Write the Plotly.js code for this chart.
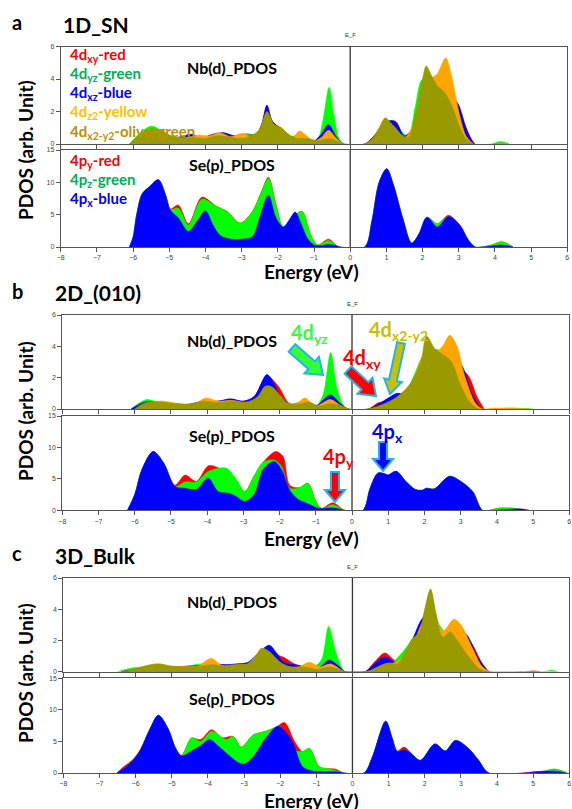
<!DOCTYPE html>
<html><head><meta charset="utf-8">
<script src="https://cdn.plot.ly/plotly-3.0.1.min.js"></script>
<style>html,body{margin:0;padding:0;background:#fff}#plot{width:572px;height:809px}</style>
</head><body><div id="plot"></div>
<script>
// ---------------- DATA (energy in eV, PDOS in arb. units) ----------------
const xTicks = [-8,-7,-6,-5,-4,-3,-2,-1,0,1,2,3,4,5,6];
const nbTicks = [0,2,4,6];
const seTicks = [0,5,10,15];
const panelLetters = ['a','b','c'];
const panelNames = ['1D_SN','2D_(010)','3D_Bulk'];

// ---- Panel a : Nb(d)
const aNbXyE = [-6.0,-5.7,-5.4,-5.1,-4.8,-4.4,-4.1,-3.8,-3.5,-3.2,-2.9,-2.6,-2.45,-2.3,-2.15,-1.9,-1.6,-1.4,-1.2,-1.0,-0.8,-0.6,-0.4,-0.2,0.4,0.7,1.0,1.25,1.5,1.8,2.0,2.3,2.6,2.9,3.1,3.3,3.45];
const aNbXyV = [0,0.5,0.8,0.6,0.4,0.55,0.4,0.55,0.65,0.5,0.55,0.6,1.1,2.3,1.4,0.95,0.4,0.6,0.4,0.2,0.55,1.0,0.45,0,0,0.6,1.3,1.4,0.5,1.2,2.5,3.0,3.2,2.5,1.6,0.5,0];
const aNbYzE = [-6.1,-5.8,-5.5,-5.2,-4.9,-4.5,-4.1,-3.7,-3.3,-2.9,-2.6,-2.3,-2.0,-1.7,-1.4,-1.1,-0.9,-0.75,-0.58,-0.45,-0.3,-0.15,0.4,0.7,1.0,1.3,1.6,1.8,2.0,2.3,2.6,3.0,3.3,3.9,4.15,4.4];
const aNbYzV = [0,0.7,1.1,0.8,0.4,0.4,0.4,0.5,0.4,0.65,0.6,1.6,0.9,0.5,0.5,0.2,0.3,1.5,3.5,1.8,0.3,0,0,0.4,1.2,1.0,0.5,2.3,4.0,3.9,2.6,1.0,0,0,0.15,0];
const aNbXzE = [-6.0,-5.7,-5.4,-5.1,-4.8,-4.4,-4.1,-3.8,-3.5,-3.2,-2.9,-2.6,-2.45,-2.3,-2.15,-1.9,-1.6,-1.4,-1.2,-1.0,-0.8,-0.6,-0.4,-0.2,0.4,0.7,1.0,1.25,1.5,1.8,2.0,2.3,2.6,2.8,3.0,3.2,3.4];
const aNbXzV = [0,0.5,0.8,0.6,0.4,0.6,0.4,0.6,0.7,0.5,0.55,0.6,1.2,2.4,1.4,0.9,0.4,0.6,0.4,0.2,0.6,1.2,0.5,0,0,0.6,1.4,1.37,0.5,1.2,3.0,3.8,3.5,3.0,2.4,1.0,0];
const aNbZ2E = [-6.0,-5.7,-5.4,-5.1,-4.8,-4.5,-4.2,-3.9,-3.6,-3.3,-3.0,-2.7,-2.5,-2.3,-2.1,-1.9,-1.6,-1.4,-1.2,-1.0,-0.8,-0.6,-0.4,-0.2,0.4,0.7,0.95,1.2,1.5,1.8,2.0,2.2,2.4,2.64,2.8,3.0,3.2,3.4];
const aNbZ2V = [0,0.4,0.7,0.6,0.4,0.4,0.55,0.5,0.7,0.45,0.65,0.5,0.9,1.9,1.1,0.9,0.4,0.8,0.5,0.2,0.4,0.85,0.4,0,0,0.5,1.3,1.1,0.4,1.5,3.5,4.0,4.3,5.3,4.2,2.0,0.5,0];
const aNbX2E = [-6.1,-5.8,-5.5,-5.2,-4.9,-4.6,-4.3,-4.0,-3.7,-3.4,-3.1,-2.8,-2.5,-2.3,-2.1,-1.9,-1.7,-1.5,-1.3,-1.1,-0.9,-0.7,-0.5,-0.3,-0.15,0.4,0.6,0.8,0.97,1.2,1.4,1.6,1.8,2.0,2.1,2.25,2.4,2.6,2.8,3.0,3.2,3.4];
const aNbX2V = [0,0.6,0.95,0.8,0.45,0.35,0.4,0.35,0.5,0.45,0.35,0.45,0.9,2.0,1.2,1.0,0.6,0.35,0.35,0.3,0.2,0.3,0.3,0.1,0,0,0.3,1.0,1.6,1.1,0.6,0.4,1.8,4.0,4.8,4.2,3.6,3.2,2.4,1.2,0.3,0];
// ---- Panel a : Se(p)
const aSePyE = [-6.1,-6.0,-5.9,-5.75,-5.55,-5.3,-5.1,-4.97,-4.75,-4.47,-4.1,-3.7,-3.4,-3.04,-2.7,-2.45,-2.26,-2.05,-1.85,-1.6,-1.33,-1.1,-0.9,-0.6,-0.3,0.4,0.6,0.8,1.01,1.2,1.45,1.7,1.9,2.12,2.41,2.72,3.04,3.25,3.45,3.6,3.9,4.19,4.5];
const aSePyV = [0,1.5,5,8.2,9.3,10.4,8.0,5.9,6.5,3.6,7.7,6.3,5.5,3.7,5.5,8.6,10.8,6.6,3.1,4.5,5.5,2.0,0.3,1.2,0,0,4,10,12.1,9.5,4.5,0.6,2.0,4.6,3.6,4.9,3.3,1.2,0,0,0.3,0.8,0];
const aSePzE = [-6.1,-6.0,-5.9,-5.75,-5.55,-5.3,-5.1,-4.97,-4.75,-4.47,-4.1,-3.7,-3.4,-3.04,-2.7,-2.45,-2.26,-2.05,-1.85,-1.6,-1.33,-1.1,-0.9,-0.6,-0.3,0.4,0.6,0.8,1.01,1.2,1.45,1.7,1.9,2.12,2.41,2.72,3.04,3.25,3.45,3.6,3.9,4.19,4.5];
const aSePzV = [0,1.5,5,8.2,9.3,10.4,8.0,5.8,6.0,3.4,7.4,6.3,5.5,3.7,5.5,8.5,10.6,6.5,3.1,4.5,5.5,2.0,0.3,1.0,0,0,4,10,12.1,9.5,4.5,0.6,2.0,4.6,3.6,4.7,3.3,1.2,0,0,0.3,0.8,0];
const aSePxE = [-6.1,-6.0,-5.9,-5.75,-5.55,-5.3,-5.1,-4.97,-4.75,-4.47,-4.2,-4.0,-3.8,-3.6,-3.3,-3.0,-2.7,-2.5,-2.26,-2.05,-1.85,-1.65,-1.52,-1.35,-1.2,-1.0,-0.8,-0.6,-0.4,-0.25,0.4,0.6,0.8,1.01,1.2,1.45,1.7,1.9,2.12,2.41,2.72,3.04,3.25,3.45,3.7,4.2,4.5];
const aSePxV = [0,1.5,5,8.2,9.3,10.4,8.0,5.7,4.5,2.4,4.2,5.6,3.5,1.8,1.2,1.2,1.6,4.5,8.0,4.5,3.1,4.5,5.4,3.5,1.5,0.3,0.2,0.4,0.2,0,0,4,10,12.1,9.5,4.5,0.6,2.0,4.6,3.1,4.7,3.3,1.2,0,0,0.3,0];

// ---- Panel b : Nb(d)
const bNbXyE = [-6.1,-5.7,-5.3,-4.9,-4.5,-4.1,-3.7,-3.35,-3.0,-2.7,-2.35,-2.05,-1.7,-1.3,-1.0,-0.6,-0.3,-0.1,0.45,0.72,1.0,1.24,1.6,2.0,2.6,3.0,3.22,3.45,3.65];
const bNbXyV = [0,0.45,0.4,0.3,0.3,0.5,0.5,0.6,0.5,0.8,2.1,1.5,0.3,0.5,0.2,0.8,0.3,0,0,0.4,0.5,0.9,1.0,2.8,3.2,2.6,2.1,0.8,0];
const bNbYzE = [-6.1,-5.68,-5.3,-4.9,-4.5,-4.1,-3.7,-3.3,-2.9,-2.6,-2.3,-2.0,-1.7,-1.3,-1.0,-0.8,-0.59,-0.4,-0.15,0.5,1.0,1.5,2.0,2.36,2.8,3.2,3.5,3.9,4.4,5.0];
const bNbYzV = [0,0.6,0.4,0.35,0.3,0.45,0.4,0.5,0.5,0.8,1.5,0.9,0.3,0.5,0.2,0.9,3.6,1.2,0,0,0.5,1.2,3.5,3.8,2.5,1.0,0,0,0.06,0];
const bNbXzE = [-6.1,-5.7,-5.3,-4.9,-4.5,-4.1,-3.7,-3.35,-3.0,-2.7,-2.35,-2.15,-2.0,-1.7,-1.3,-1.0,-0.6,-0.3,-0.1,0.45,0.75,1.0,1.24,1.5,2.0,2.5,2.8,3.03,3.3,3.55];
const bNbXzV = [0,0.45,0.4,0.3,0.3,0.5,0.5,0.65,0.5,0.8,2.2,1.6,0.9,0.3,0.5,0.2,0.9,0.3,0,0,0.35,0.7,1.0,1.0,3.0,3.5,3.2,2.8,1.0,0];
const bNbZ2E = [-5.9,-5.5,-5.2,-4.8,-4.4,-4.02,-3.7,-3.3,-2.9,-2.6,-2.35,-2.1,-1.8,-1.5,-1.3,-1.0,-0.6,-0.3,-0.1,0.5,1.2,1.6,2.0,2.3,2.5,2.7,2.9,3.1,3.4,3.6,3.9,4.4,4.9];
const bNbZ2V = [0,0.45,0.5,0.35,0.3,0.7,0.5,0.55,0.4,0.7,1.3,1.1,0.35,0.4,0.7,0.2,0.6,0.2,0,0,0.6,1.4,3.5,3.6,4.0,4.7,4.0,2.2,0.4,0,0.05,0.05,0];
const bNbX2E = [-6.0,-5.7,-5.3,-4.9,-4.5,-4.1,-3.7,-3.3,-2.9,-2.6,-2.4,-2.2,-2.0,-1.8,-1.5,-1.2,-0.9,-0.6,-0.3,-0.1,0.45,0.8,1.2,1.6,1.9,2.06,2.3,2.5,2.75,3.0,3.3,3.5];
const bNbX2V = [0,0.4,0.45,0.35,0.3,0.5,0.4,0.5,0.45,0.8,1.45,1.4,0.9,0.4,0.3,0.45,0.2,0.35,0.2,0,0,0.25,0.7,1.6,3.0,4.65,3.8,3.5,3.0,1.5,0.3,0];
// ---- Panel b : Se(p)
const bSePyE = [-6.2,-6.0,-5.8,-5.49,-5.2,-4.89,-4.61,-4.3,-3.96,-3.6,-3.3,-2.96,-2.7,-2.46,-2.1,-1.9,-1.72,-1.45,-1.22,-1.0,-0.85,-0.53,-0.2,0.3,0.5,0.71,0.9,0.99,1.22,1.5,1.75,1.95,2.05,2.27,2.69,3.0,3.33,3.6,3.8,4.06,4.5,4.8];
const bSePyV = [0,2.5,6.5,9.35,7.5,4.0,5.6,4.6,7.1,6.5,5.2,3.0,5.5,7.6,9.35,8.5,4.0,3.6,4.3,1.5,0.3,1.2,0,0,3.5,5.9,5.8,5.6,6.2,4.5,3.3,3.2,3.5,3.4,5.4,4.6,3.0,0,0,0.35,0.3,0];
const bSePzE = [-6.2,-6.0,-5.8,-5.49,-5.2,-4.89,-4.61,-4.3,-3.96,-3.47,-3.2,-2.96,-2.7,-2.46,-2.15,-1.95,-1.72,-1.45,-1.22,-1.0,-0.85,-0.53,-0.2,0.3,0.5,0.71,0.9,0.99,1.22,1.5,1.75,1.95,2.05,2.27,2.69,3.0,3.33,3.6,3.8,4.06,4.5,4.8];
const bSePzV = [0,2.5,6.5,9.35,7.5,3.8,4.5,4.5,6.2,6.7,5.0,3.0,5.5,7.6,8.0,7.0,3.5,3.6,4.3,1.5,0.3,0.9,0,0,3.5,5.9,5.8,5.6,6.2,4.5,3.3,3.2,3.5,3.4,5.4,4.6,3.0,0,0,0.35,0.3,0];
const bSePxE = [-6.2,-6.0,-5.8,-5.49,-5.2,-4.89,-4.6,-4.3,-3.97,-3.7,-3.4,-3.2,-2.96,-2.7,-2.45,-2.15,-1.95,-1.72,-1.5,-1.2,-0.9,-0.53,-0.2,0.3,0.5,0.71,0.9,0.99,1.22,1.5,1.75,1.95,2.05,2.27,2.69,3.0,3.33,3.6,3.9,4.7,4.9];
const bSePxV = [0,2.5,6.5,9.35,7.5,3.8,3.5,3.3,5.1,3.0,2.7,2.2,1.4,2.5,6.5,7.75,6.5,3.2,1.8,1.0,0.3,0.4,0,0,3.5,5.9,5.8,5.6,6.2,4.5,3.3,3.2,3.5,3.4,5.4,4.6,3.0,0,0,0.2,0];

// ---- Panel c : Nb(d)
const cNbXyE = [-6.3,-5.5,-4.6,-3.9,-2.9,-2.3,-2.0,-1.88,-1.6,-1.2,-0.65,-0.2,0.35,0.6,0.9,1.2,1.5,2.0,2.5,2.9,3.3,3.6,3.8,4.8,5.0,5.2];
const cNbXyV = [0,0.3,0.3,0.45,0.5,1.4,1.0,0.9,0.5,0.3,0.6,0,0,0.6,1.2,0.7,1.0,3.0,2.2,2.8,1.8,0.5,0,0,0.05,0];
const cNbYzE = [-6.5,-6.07,-5.7,-5.37,-5.0,-4.6,-4.18,-3.9,-3.5,-3.21,-2.9,-2.5,-2.2,-1.9,-1.5,-1.1,-0.85,-0.66,-0.45,-0.2,0.4,1.0,1.6,2.0,2.16,2.4,2.7,3.0,3.4,5.3,5.5,5.7];
const cNbYzV = [0,0.25,0.3,0.45,0.3,0.35,0.5,0.4,0.4,0.5,0.45,1.3,1.1,0.4,0.3,0.25,0.8,2.9,1.2,0,0,0.4,1.9,3.8,5.2,3.0,2.2,1.2,0,0,0.1,0];
const cNbXzE = [-6.4,-6.0,-5.5,-5.0,-4.6,-4.2,-3.9,-3.5,-3.2,-2.89,-2.6,-2.3,-2.1,-1.9,-1.5,-1.2,-0.9,-0.65,-0.4,-0.2,0.35,0.6,0.9,1.2,1.5,2.0,2.5,2.8,3.1,3.2,3.5,3.77];
const cNbXzV = [0,0.15,0.35,0.3,0.35,0.4,0.5,0.45,0.5,0.6,1.2,1.7,1.2,0.6,0.4,0.3,0.3,0.75,0.4,0,0,0.5,0.95,0.6,1.2,3.5,2.3,2.9,2.5,2.25,0.8,0];
const cNbZ2E = [-6.2,-5.7,-5.37,-5.0,-4.6,-4.3,-3.9,-3.6,-3.2,-2.9,-2.52,-2.2,-1.9,-1.5,-1.19,-0.9,-0.6,-0.2,0.4,0.9,1.2,1.6,2.0,2.16,2.5,2.8,3.0,3.3,3.6,3.8];
const cNbZ2V = [0,0.35,0.5,0.35,0.35,0.35,0.85,0.4,0.45,0.5,1.3,1.0,0.4,0.3,0.6,0.3,0.5,0,0,0.5,0.6,1.5,3.5,4.0,2.6,3.35,3.0,1.6,0.3,0];
const cNbX2E = [-6.4,-6.0,-5.7,-5.37,-5.0,-4.6,-4.2,-3.9,-3.5,-3.2,-2.9,-2.7,-2.52,-2.3,-2.0,-1.7,-1.3,-1.0,-0.6,-0.2,0.4,0.7,1.0,1.25,1.45,1.65,1.85,2.0,2.16,2.3,2.5,2.71,2.9,3.2,3.5,3.7];
const cNbX2V = [0,0.2,0.4,0.5,0.35,0.3,0.35,0.45,0.35,0.45,0.5,0.9,1.5,1.3,0.6,0.3,0.3,0.15,0.3,0,0,0.3,0.55,0.5,1.2,2.1,2.5,4.0,5.3,3.8,2.2,2.55,2.0,1.0,0.2,0];
// ---- Panel c : Se(p)
const cSePyE = [-6.52,-6.33,-6.1,-5.88,-5.6,-5.37,-5.1,-4.9,-4.73,-4.45,-4.2,-3.9,-3.6,-3.3,-3.07,-2.75,-2.4,-2.1,-1.88,-1.6,-1.38,-1.19,-0.92,-0.7,-0.46,-0.23,0.32,0.55,0.92,1.1,1.24,1.43,1.6,1.88,2.28,2.57,2.85,3.21,3.49,3.77,4.7,5.0,5.3,5.6,5.95];
const cSePyV = [0,1.0,2.0,3.6,7.0,9.15,7.0,4.0,2.8,5.5,5.3,6.85,5.6,5.8,4.1,6.0,6.6,7.3,8.0,5.0,3.4,3.9,1.0,0.7,0.6,0,0,2.5,8.2,5.5,3.5,4.1,3.3,2.0,4.6,3.5,5.15,3.9,2.0,0,0,0.2,0.3,0.6,0];
const cSePzE = [-6.52,-6.33,-6.1,-5.88,-5.6,-5.37,-5.1,-4.9,-4.73,-4.45,-4.2,-3.9,-3.49,-3.3,-3.07,-2.75,-2.4,-2.0,-1.75,-1.55,-1.38,-1.19,-0.92,-0.7,-0.46,-0.23,0.32,0.55,0.92,1.1,1.24,1.43,1.6,1.88,2.28,2.57,2.85,3.21,3.49,3.77,5.0,5.3,5.6,5.95];
const cSePzV = [0,0.7,1.8,3.5,7.0,9.15,7.0,4.0,2.7,5.6,5.0,6.6,5.3,5.8,4.1,6.0,6.6,7.3,4.5,3.5,3.4,3.9,1.0,0.7,0.4,0,0,2.5,8.2,5.5,3.4,3.7,3.2,2.0,4.6,3.5,5.15,3.9,2.0,0,0,0.3,0.6,0];
const cSePxE = [-6.52,-6.33,-6.1,-5.88,-5.6,-5.37,-5.1,-4.9,-4.73,-4.45,-4.2,-3.95,-3.7,-3.4,-3.2,-3.0,-2.75,-2.4,-2.07,-1.9,-1.65,-1.38,-1.1,-0.8,-0.46,-0.23,0.32,0.55,0.92,1.1,1.24,1.43,1.6,1.88,2.28,2.57,2.85,3.21,3.49,3.77,4.8,5.2,5.6,5.9];
const cSePxV = [0,0.7,1.8,3.5,7.0,9.15,7.0,4.0,2.7,3.5,4.3,5.3,4.2,2.7,1.8,1.4,2.5,5.5,7.4,6.8,4.8,1.0,0.3,0.2,0.2,0,0,2.5,8.2,5.5,3.4,3.7,3.2,2.0,4.6,3.5,5.15,3.9,2.0,0,0,0.2,0.3,0];

// ---------------- LAYOUT / DRAWING ----------------
const W = 572, H = 809;
const PX = x => x / W, PY = y => 1 - y / H;
const COL = {xy:'#ff0000', yz:'#00ff00', xz:'#0000ff', z2:'#ffa500', x2:'#999900'};
const geo = [
  {nbT:46.5, nbB:144, seT:150, seB:247, xl:60.7, xr:567.3, ef:35, letY:22, nameX:61, nameY:25, nbLab:67, seLab:165, yt:150, en:272},
  {nbT:315, nbB:409, seT:416, seB:510.3, xl:62.3, xr:569.3, ef:304, letY:291, nameX:53, nameY:292, nbLab:340, seLab:435, yt:411, en:538},
  {nbT:578, nbB:671.7, seT:678.3, seB:773, xl:63.3, xr:569.3, ef:567, letY:553, nameX:53, nameY:555, nbLab:601, seLab:698, yt:673, en:800}
];
const nbSets = [
  [[aNbXyE,aNbXyV,'xy'],[aNbYzE,aNbYzV,'yz'],[aNbXzE,aNbXzV,'xz'],[aNbZ2E,aNbZ2V,'z2'],[aNbX2E,aNbX2V,'x2']],
  [[bNbXyE,bNbXyV,'xy'],[bNbYzE,bNbYzV,'yz'],[bNbXzE,bNbXzV,'xz'],[bNbZ2E,bNbZ2V,'z2'],[bNbX2E,bNbX2V,'x2']],
  [[cNbXyE,cNbXyV,'xy'],[cNbYzE,cNbYzV,'yz'],[cNbXzE,cNbXzV,'xz'],[cNbZ2E,cNbZ2V,'z2'],[cNbX2E,cNbX2V,'x2']]
];
const seSets = [
  [[aSePyE,aSePyV,'xy'],[aSePzE,aSePzV,'yz'],[aSePxE,aSePxV,'xz']],
  [[bSePyE,bSePyV,'xy'],[bSePzE,bSePzV,'yz'],[bSePxE,bSePxV,'xz']],
  [[cSePyE,cSePyV,'xy'],[cSePzE,cSePzV,'yz'],[cSePxE,cSePxV,'xz']]
];

const traces = [];
const layout = {
  width: W, height: H, margin: {l:0, r:0, t:0, b:0},
  paper_bgcolor: '#fff', plot_bgcolor: '#fff', showlegend: false,
  font: {family: 'Liberation Sans, Arial, sans-serif', color: '#000'},
  shapes: [], annotations: []
};
const BIG = 'Lato, "Open Sans", sans-serif';
function ann(text, x, y, size, color, opts) {
  layout.annotations.push(Object.assign({
    text: text, x: PX(x), y: PY(y), xref: 'paper', yref: 'paper',
    showarrow: false, xanchor: 'left', yanchor: 'middle',
    font: {family: BIG, size: size, color: color, weight: 'bold'}
  }, opts || {}));
}
function axisBase() {
  return {showline: true, linecolor: '#555', linewidth: 1, mirror: true, ticks: 'outside',
    ticklen: 4, tickcolor: '#555', tickwidth: 1, showgrid: false, zeroline: false,
    tickfont: {family: 'Liberation Sans, Arial, sans-serif', size: 7, color: '#444'}, fixedrange: true};
}
function area(k, E, V, key) {
  traces.push({type: 'scatter', mode: 'lines', x: E, y: V, xaxis: 'x' + k, yaxis: 'y' + k,
    line: {shape: 'spline', smoothing: 0.9, width: 0.6, color: COL[key]},
    fill: 'tozeroy', fillcolor: COL[key], hoverinfo: 'skip'});
}

geo.forEach((g, i) => {
  const kN = 2 * i + 1, kS = 2 * i + 2;
  const xd = [PX(g.xl), PX(g.xr)];
  [[kN, g.nbT, g.nbB, [0, 6], nbTicks, false], [kS, g.seT, g.seB, [0, 15], seTicks, true]].forEach(([k, t, b, yr, yt, showX]) => {
    const xa = axisBase(); xa.domain = xd; xa.range = [-8, 6]; xa.tickvals = xTicks; xa.anchor = 'y' + k; xa.showticklabels = showX;
    const ya = axisBase(); ya.domain = [PY(b), PY(t)]; ya.range = yr; ya.tickvals = yt; ya.anchor = 'x' + k;
    layout['xaxis' + (k === 1 ? '' : k)] = xa;
    layout['yaxis' + (k === 1 ? '' : k)] = ya;
    layout.shapes.push({type: 'line', xref: 'x' + k, yref: 'y' + k + ' domain', x0: 0, x1: 0, y0: 0, y1: 1,
      line: {color: '#333', width: 1.3}, layer: 'above'});
  });
  nbSets[i].forEach(s => area(kN, s[0], s[1], s[2]));
  seSets[i].forEach(s => area(kS, s[0], s[1], s[2]));

  ann(panelLetters[i], 10, g.letY, 20, '#000');
  ann(panelNames[i], g.nameX, g.nameY, 21, '#000');
  ann('Nb(d)_PDOS', 232, g.nbLab, 16, '#000', {xanchor: 'center'});
  ann('Se(p)_PDOS', 232, g.seLab, 16, '#000', {xanchor: 'center'});
  ann('PDOS (arb. Unit)', 25, g.yt, 19, '#000', {xanchor: 'center', textangle: -90});
  ann('Energy (eV)', 311, g.en, 19, '#000', {xanchor: 'center'});
  layout.annotations.push({text: 'E_F', x: PX(g.xl + (g.xr - g.xl) * 8 / 14), y: PY(g.ef), xref: 'paper', yref: 'paper',
    showarrow: false, xanchor: 'center', yanchor: 'middle', font: {family: 'Liberation Sans, Arial, sans-serif', size: 6, color: '#333'}});
});

// legend-like labels (panel a)
ann('4d<sub>xy</sub>-red', 68, 55, 15, '#ff0000');
ann('4d<sub>yz</sub>-green', 68, 74, 15, '#00b050');
ann('4d<sub>xz</sub>-blue', 68, 93, 15, '#0000ff');
ann('4d<sub>z2</sub>-yellow', 68, 112.5, 15, '#ffc000');
ann('4d<sub>x2-y2</sub>-olive-green', 68, 131.5, 15, '#bf9000');
ann('4p<sub>y</sub>-red', 68, 160.5, 15, '#ff0000');
ann('4p<sub>z</sub>-green', 68, 180, 15, '#00b050');
ann('4p<sub>x</sub>-blue', 68, 198.5, 15, '#0000ff');

// panel b callouts
ann('4d<sub>yz</sub>', 289, 333, 20, '#33ff33');
ann('4d<sub>xy</sub>', 341, 358, 20, '#ff0000');
ann('4d<sub>x2-y2</sub>', 367, 330, 20, '#c8c000');
ann('4p<sub>y</sub>', 321, 457, 20, '#ff0000');
ann('4p<sub>x</sub>', 370, 432, 20, '#0000ff');

function blockArrow(x0, y0, x1, y1, sw, hw, hl, color) {
  const dx = x1 - x0, dy = y1 - y0, L = Math.hypot(dx, dy);
  const ux = dx / L, uy = dy / L, nx = -uy, ny = ux;
  const bx = x1 - ux * hl, by = y1 - uy * hl;
  const pts = [
    [x0 + nx * sw / 2, y0 + ny * sw / 2], [bx + nx * sw / 2, by + ny * sw / 2], [bx + nx * hw / 2, by + ny * hw / 2],
    [x1, y1], [bx - nx * hw / 2, by - ny * hw / 2], [bx - nx * sw / 2, by - ny * sw / 2], [x0 - nx * sw / 2, y0 - ny * sw / 2]
  ];
  const path = pts.map((p, j) => (j ? 'L' : 'M') + PX(p[0]).toFixed(5) + ',' + PY(p[1]).toFixed(5)).join(' ') + ' Z';
  layout.shapes.push({type: 'path', xref: 'paper', yref: 'paper', path: path, fillcolor: color,
    line: {color: '#1fb4ef', width: 2}, layer: 'above'});
}
blockArrow(292, 348, 323, 375, 10, 22, 15, '#33ff33');
blockArrow(348, 370, 376, 396, 10, 22, 15, '#ff0000');
blockArrow(401, 343, 390, 394, 8, 18, 14, '#c8c000');
blockArrow(335, 472, 335, 502, 8, 20, 12, '#ff0000');
blockArrow(383, 442, 383, 471, 8, 20, 12, '#0000ff');

Plotly.newPlot('plot', traces, layout, {staticPlot: true, displayModeBar: false});
</script></body></html>
